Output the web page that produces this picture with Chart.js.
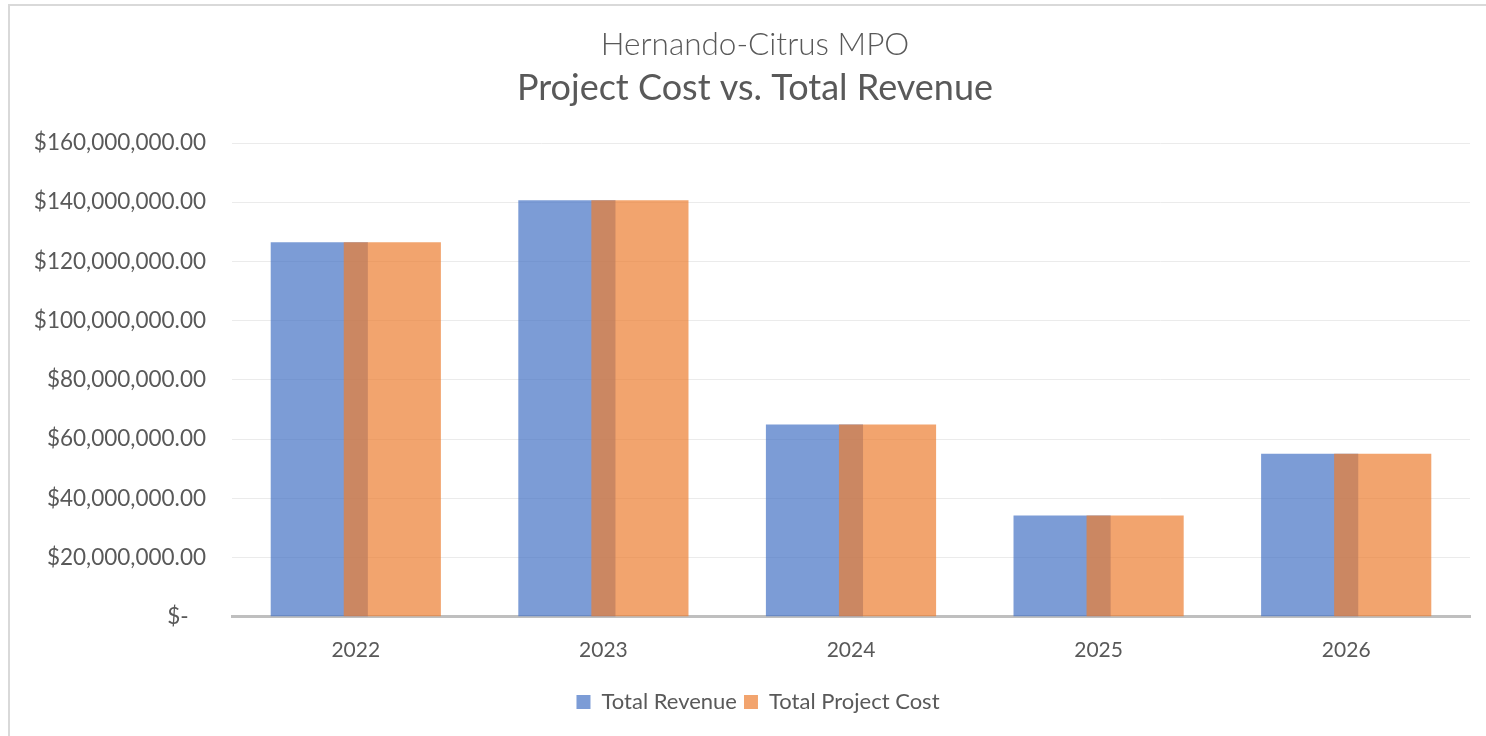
<!DOCTYPE html>
<html>
<head>
<meta charset="utf-8">
<script src="https://cdn.jsdelivr.net/npm/chart.js@4"></script>
<style>
  html, body { margin: 0; padding: 0; background: #fff; }
  #frame { position: absolute; left: 8px; top: 4px; width: 1500px; height: 760px; border-left: 2px solid #d9d9d9; border-top: 2px solid #d9d9d9; }
  #wrap { position: absolute; left: 0; top: 0; width: 1486px; height: 736px; }
</style>
</head>
<body>
<div id="frame"></div>
<div id="wrap"><canvas id="chart"></canvas></div>
<script>
const years = ["2022", "2023", "2024", "2025", "2026"];
const totalRevenue = [126500000, 140700000, 64900000, 34200000, 55100000];
const totalProjectCost = [126500000, 140700000, 64900000, 34200000, 55100000];

const FONT = "Lato, 'Open Sans', sans-serif";
const GREY = "#595959";

// draw revenue first, then cost on top so the overlap looks like Excel's
const drawOrder = {
  id: "drawOrder",
  beforeDatasetsDraw(chart) {
    chart.getDatasetMeta(0).controller.draw();
    chart.getDatasetMeta(1).controller.draw();
    return false;
  }
};

// titles and legend sit a bit right of the canvas centre in the original
const shiftBlocks = {
  id: "shiftBlocks",
  afterLayout(chart) {
    chart.boxes.forEach(b => {
      if (b instanceof Chart.Scale) return;
      const dx = b === chart.legend ? 18 : 15;
      b.left += dx;
      b.right += dx;
    });
  }
};

function money(v) {
  if (v === 0) return "$-   ";
  return "$" + v.toLocaleString("en-US", { minimumFractionDigits: 2, maximumFractionDigits: 2 });
}

new Chart(document.getElementById("chart"), {
  type: "bar",
  data: {
    labels: years,
    datasets: [
      {
        label: "Total Revenue",
        data: totalRevenue,
        backgroundColor: "rgba(68, 114, 196, 0.7)",
        categoryPercentage: 0.59,
        barPercentage: 1.33
      },
      {
        label: "Total Project Cost",
        data: totalProjectCost,
        backgroundColor: "rgba(237, 125, 49, 0.7)",
        categoryPercentage: 0.59,
        barPercentage: 1.33
      }
    ]
  },
  options: {
    responsive: true,
    maintainAspectRatio: false,
    animation: false,
    layout: { padding: { left: 10, right: 16, top: 0, bottom: 13 } },
    plugins: {
      title: {
        display: true,
        text: "Hernando-Citrus MPO",
        color: GREY,
        font: { family: FONT, size: 31.5, weight: "300" },
        padding: { top: 26, bottom: 3 }
      },
      subtitle: {
        display: true,
        text: "Project Cost vs. Total Revenue",
        color: GREY,
        font: { family: FONT, size: 36, weight: "normal" },
        padding: { top: 0, bottom: 33 }
      },
      legend: {
        position: "bottom",
        labels: {
          color: GREY,
          font: { family: FONT, size: 22 },
          boxWidth: 14,
          boxHeight: 14,
          padding: 7
        }
      },
      tooltip: { enabled: false }
    },
    scales: {
      x: {
        grid: { drawOnChartArea: false, drawTicks: false },
        border: { color: "#bfbfbf", width: 3 },
        ticks: { color: GREY, font: { family: FONT, size: 21 }, padding: 21 }
      },
      y: {
        min: 0,
        max: 160000000,
        grid: { color: "#ebebeb", lineWidth: 1, drawTicks: false },
        border: { display: false },
        afterFit(scale) { scale.width = 222; },
        ticks: {
          stepSize: 20000000,
          color: GREY,
          font: { family: FONT, size: 22.5 },
          padding: 26,
          callback: (v) => money(v)
        }
      }
    }
  },
  plugins: [drawOrder, shiftBlocks]
});
</script>
</body>
</html>
